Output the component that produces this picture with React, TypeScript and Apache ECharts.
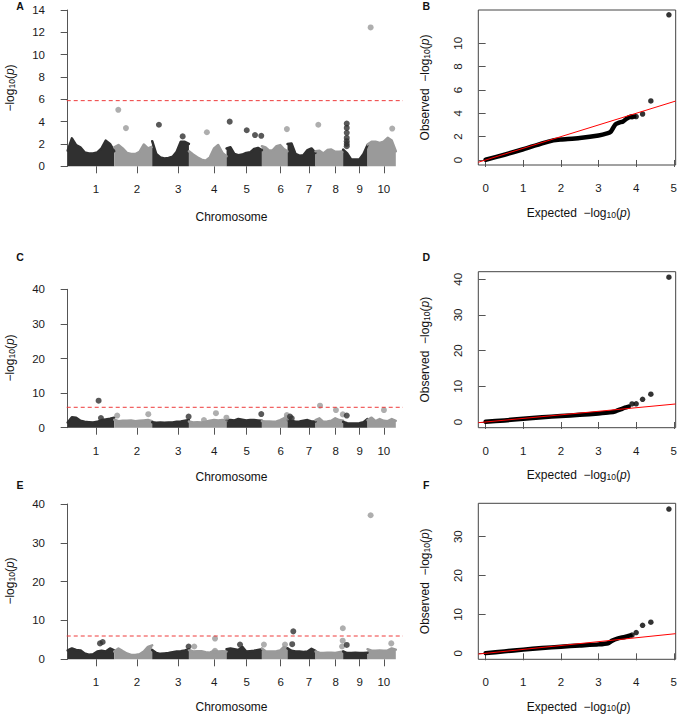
import React, { useEffect, useRef } from "react";
import * as echarts from "echarts";

// ---------- data ----------
const CHROMOSOMES = ["1", "2", "3", "4", "5", "6", "7", "8", "9", "10"];
const CHROM_LENGTH_MB = [298, 243, 235, 241, 226, 164, 179, 177, 156, 181];
const CHROM_TICK_MB = [181, 443, 708, 938, 1145, 1363, 1544, 1715, 1869, 2023];

// upper envelope of the dense SNP cloud per chromosome (evenly spaced along the chromosome)
const ENVELOPE_A = [
  [1.4, 2.5, 1.9, 1.7, 1.25, 1.15, 1.15, 1.25, 1.6, 2.3, 2.0, 1.35],
  [1.7, 1.9, 1.6, 1.2, 1.1, 1.1, 1.3, 1.95, 1.6, 1.75],
  [2.25, 1.1, 0.8, 0.7, 0.75, 0.85, 1.3, 2.2, 2.2, 2.0],
  [1.35, 1.05, 0.8, 0.6, 0.5, 0.8, 1.6, 1.9, 1.2, 0.9],
  [1.6, 1.7, 1.1, 1.0, 1.05, 1.2, 1.25, 1.55, 1.65, 1.45],
  [1.8, 1.7, 1.4, 1.45, 1.8, 1.9, 1.55, 1.35],
  [2.0, 2.05, 1.1, 0.95, 1.0, 1.45, 1.6, 1.2],
  [1.35, 1.4, 1.15, 1.45, 1.5, 1.3, 1.3, 1.35],
  [1.5, 1.15, 0.6, 0.6, 0.6, 1.1, 1.9],
  [1.95, 2.2, 2.2, 2.1, 2.2, 2.55, 2.3, 1.35],
];
// [chromosome, position within chromosome (Mb), -log10 p]
const OUTLIERS_A = [
  [2, 26, 5.06], [2, 75, 3.42], [3, 43, 3.72], [3, 195, 2.68], [4, 115, 3.05],
  [5, 20, 4.0], [5, 129, 3.23], [5, 182, 2.8], [5, 222, 2.73], [6, 160, 3.33],
  [8, 18, 3.72], [9, 23, 3.83], [9, 23, 3.44], [9, 23, 3.0], [9, 23, 2.54],
  [9, 23, 2.25], [9, 23, 2.0], [9, 23, 1.8], [10, 20, 12.44], [10, 158, 3.38],
];
const THRESHOLD_A = 5.88;

const ENVELOPE_C = [
  [1.5, 3.0, 2.9, 2.0, 1.7, 1.6, 1.5, 1.7, 2.2, 2.4, 2.6, 2.9],
  [2.3, 1.9, 2.0, 2.0, 2.1, 1.9, 2.0, 2.1, 2.2, 1.9],
  [1.6, 1.4, 1.5, 1.4, 1.5, 1.5, 1.7, 1.8, 2.0, 2.2],
  [1.8, 1.5, 1.6, 1.5, 1.7, 2.0, 2.2, 2.1, 2.2, 2.0],
  [2.2, 2.2, 2.1, 2.5, 2.3, 2.1, 2.2, 2.2, 2.1, 2.0],
  [1.9, 1.8, 1.8, 1.7, 1.8, 2.2, 2.7, 2.3],
  [2.2, 2.0, 1.7, 1.8, 2.0, 2.2, 1.8, 1.8],
  [2.2, 2.7, 1.7, 1.8, 2.0, 2.7, 2.2, 2.0],
  [1.7, 1.3, 1.2, 1.2, 1.3, 1.6, 2.5],
  [2.2, 2.9, 1.9, 2.5, 2.0, 1.9, 2.5, 2.0],
];
const OUTLIERS_C = [
  [1, 198, 7.8], [1, 213, 2.8], [2, 19, 3.5], [2, 218, 3.9], [3, 233, 3.2],
  [4, 96, 2.2], [4, 173, 4.2], [4, 240, 2.9], [5, 222, 3.95], [6, 160, 3.66],
  [6, 158, 2.8], [7, 16, 3.2], [7, 27, 2.7], [8, 29, 6.36], [8, 131, 5.1],
  [8, 175, 3.85], [9, 23, 3.5], [10, 20, 40.6], [10, 105, 5.1],
];
const THRESHOLD_C = 5.9;

const ENVELOPE_E = [
  [2.3, 2.8, 2.4, 2.3, 1.5, 1.2, 1.3, 2.0, 2.2, 2.0, 2.8, 2.3],
  [2.0, 2.8, 2.1, 1.5, 1.1, 1.1, 1.3, 2.0, 3.2, 3.6],
  [2.4, 1.6, 1.4, 1.5, 1.6, 1.8, 2.0, 2.1, 2.3, 2.6],
  [2.4, 2.0, 2.1, 2.1, 1.8, 1.7, 2.2, 2.0, 2.1, 2.0],
  [2.6, 2.8, 2.6, 2.4, 3.2, 2.0, 2.1, 2.2, 2.4, 2.6],
  [2.8, 2.1, 2.0, 2.0, 2.1, 2.3, 3.2, 2.8],
  [2.8, 2.2, 2.0, 2.0, 1.9, 2.0, 2.7, 2.2],
  [2.0, 1.7, 1.6, 1.7, 1.7, 1.6, 1.8, 2.0],
  [2.0, 1.6, 1.6, 1.7, 1.6, 1.6, 1.7],
  [2.6, 2.2, 2.2, 2.3, 2.2, 2.3, 2.8, 2.5],
];
const OUTLIERS_E = [
  [1, 207, 4.1], [1, 224, 4.45], [3, 233, 3.3], [4, 34, 3.3], [4, 167, 5.35],
  [4, 167, 2.2], [5, 86, 3.8], [6, 13, 3.8], [6, 148, 3.8], [7, 30, 3.9],
  [7, 37, 7.2], [8, 170, 3.3], [8, 174, 4.8], [8, 175, 8.0], [9, 23, 3.7],
  [10, 152, 4.1], [10, 20, 37.1],
];
const THRESHOLD_E = 6.0;

// QQ plots: [expected, observed]
const QQ_BAND_B = [
  [0, 0.02], [0.5, 0.45], [1, 0.92], [1.5, 1.43], [1.8, 1.68], [2, 1.75], [2.5, 1.88],
  [3, 2.1], [3.25, 2.3], [3.32, 2.4], [3.38, 2.7], [3.45, 3.05], [3.55, 3.2],
  [3.65, 3.3], [3.75, 3.55], [3.85, 3.7], [3.95, 3.72],
];
const QQ_POINTS_B = [[3.89, 3.7], [4.0, 3.72], [4.17, 3.94], [4.39, 5.06], [4.87, 12.44]];
const QQ_BAND_D = [
  [0, 0.05], [0.5, 0.45], [1, 0.9], [1.5, 1.3], [2, 1.7], [2.5, 2.0], [3, 2.4],
  [3.3, 2.7], [3.45, 3.0], [3.6, 3.6], [3.7, 4.0], [3.8, 4.3],
];
const QQ_POINTS_D = [[3.89, 5.05], [4.0, 5.1], [4.17, 6.36], [4.39, 7.8], [4.87, 40.6]];
const QQ_BAND_F = [
  [0, 0.05], [0.5, 0.5], [1, 0.95], [1.5, 1.35], [2, 1.7], [2.5, 2.0], [3, 2.3],
  [3.25, 2.6], [3.35, 3.2], [3.5, 3.8], [3.7, 4.2], [3.85, 4.6],
];
const QQ_POINTS_F = [[3.89, 4.7], [4.0, 5.35], [4.17, 7.2], [4.39, 8.0], [4.87, 37.1]];

const QQ_X_TICKS = [0, 1, 2, 3, 4, 5];
const QQ_Y_TICKS_B = [0, 2, 4, 6, 8, 10];
const QQ_Y_TICKS_D = [0, 10, 20, 30, 40];
const QQ_Y_TICKS_F = [0, 10, 20, 30];

// ---------- styling / layout ----------
const DARK = "#303030";
const GRAY = "#9a9a9a";
const FONT = '"Liberation Sans", Arial, Helvetica, sans-serif';
const AXIS_COLOR = "#555";
const LABEL_COLOR = "#1a1a1a";

const M_X_MIN = -49;
const M_X_MAX = 2146;
const THRESH_X_START = -6;
const QQ_X_MIN = -0.195;
const QQ_X_MAX = 5.05;

const CHROM_START: number[] = [];
{
  let acc = 0;
  for (const l of CHROM_LENGTH_MB) {
    CHROM_START.push(acc);
    acc += l;
  }
}

const manhattanGrids = [
  { top: 10, height: 156.3, yMax: 14, step: 2, env: ENVELOPE_A, out: OUTLIERS_A, thr: THRESHOLD_A },
  { top: 289.3, height: 138.4, yMax: 40, step: 10, env: ENVELOPE_C, out: OUTLIERS_C, thr: THRESHOLD_C },
  { top: 504, height: 155.3, yMax: 40, step: 10, env: ENVELOPE_E, out: OUTLIERS_E, thr: THRESHOLD_E },
];
const qqGrids = [
  { top: 10, height: 155, yMin: -0.43, yMax: 12.85, ticks: QQ_Y_TICKS_B, band: QQ_BAND_B, pts: QQ_POINTS_B },
  { top: 271.7, height: 156, yMin: -1.6, yMax: 42.13, ticks: QQ_Y_TICKS_D, band: QQ_BAND_D, pts: QQ_POINTS_D },
  { top: 503.3, height: 156, yMin: -1.54, yMax: 38.59, ticks: QQ_Y_TICKS_F, band: QQ_BAND_F, pts: QQ_POINTS_F },
];

function buildOption() {
  const grid: any[] = [];
  const xAxis: any[] = [];
  const yAxis: any[] = [];
  const series: any[] = [];

  manhattanGrids.forEach((g) => {
    const gi = grid.length;
    grid.push({ left: 60, top: g.top, width: 343, height: g.height });
    xAxis.push({
      gridIndex: gi,
      type: "value",
      min: M_X_MIN,
      max: M_X_MAX,
      axisLine: { show: false },
      splitLine: { show: false },
      axisTick: { show: true, customValues: CHROM_TICK_MB, length: 7, lineStyle: { color: AXIS_COLOR } },
      axisLabel: {
        customValues: CHROM_TICK_MB,
        margin: 17,
        fontSize: 11.5,
        color: LABEL_COLOR,
        fontFamily: FONT,
        formatter: (v: number) => {
          const i = CHROM_TICK_MB.indexOf(v);
          return i >= 0 ? CHROMOSOMES[i] : "";
        },
      },
    });
    yAxis.push({
      gridIndex: gi,
      type: "value",
      min: 0,
      max: g.yMax,
      interval: g.step,
      axisLine: { show: true, lineStyle: { color: AXIS_COLOR } },
      axisTick: { show: true, length: 7, lineStyle: { color: AXIS_COLOR } },
      splitLine: { show: false },
      axisLabel: { margin: 15, fontSize: 11.5, color: LABEL_COLOR, fontFamily: FONT },
    });
    g.env.forEach((vals, c) => {
      const n = vals.length;
      const color = c % 2 === 0 ? DARK : GRAY;
      series.push({
        type: "line",
        xAxisIndex: gi,
        yAxisIndex: gi,
        data: vals.map((v, i) => [CHROM_START[c] + (CHROM_LENGTH_MB[c] * i) / (n - 1), v]),
        symbol: "none",
        smooth: false,
        lineStyle: { color, width: 2.5, join: "round", cap: "round" },
        areaStyle: { color, opacity: 1 },
        silent: true,
        z: 2,
      });
    });
    series.push({
      type: "scatter",
      xAxisIndex: gi,
      yAxisIndex: gi,
      symbolSize: 6,
      silent: true,
      z: 3,
      data: g.out.map(([c, p, v]) => ({
        value: [CHROM_START[c - 1] + p, v],
        itemStyle: { color: (c - 1) % 2 === 0 ? DARK : GRAY },
      })),
    });
    series.push({
      type: "line",
      xAxisIndex: gi,
      yAxisIndex: gi,
      data: [[THRESH_X_START, g.thr], [M_X_MAX, g.thr]],
      symbol: "none",
      silent: true,
      lineStyle: { color: "#ee3a3a", width: 1, type: [4, 3] },
      z: 4,
    });
  });

  qqGrids.forEach((g) => {
    const gi = grid.length;
    grid.push({
      left: 478.3,
      top: g.top,
      width: 199.4,
      height: g.height,
      show: true,
      borderColor: "#444",
      borderWidth: 1,
      backgroundColor: "transparent",
    });
    xAxis.push({
      gridIndex: gi,
      type: "value",
      min: QQ_X_MIN,
      max: QQ_X_MAX,
      axisLine: { show: false },
      splitLine: { show: false },
      axisTick: { show: true, customValues: QQ_X_TICKS, length: 7, lineStyle: { color: AXIS_COLOR } },
      axisLabel: { customValues: QQ_X_TICKS, margin: 17, fontSize: 11.5, color: LABEL_COLOR, fontFamily: FONT },
    });
    yAxis.push({
      gridIndex: gi,
      type: "value",
      min: g.yMin,
      max: g.yMax,
      axisLine: { show: false },
      splitLine: { show: false },
      axisTick: { show: true, customValues: g.ticks, length: 7, lineStyle: { color: AXIS_COLOR } },
      axisLabel: { customValues: g.ticks, rotate: 90, margin: 14, fontSize: 11.5, color: LABEL_COLOR, fontFamily: FONT },
    });
    series.push({
      type: "line",
      xAxisIndex: gi,
      yAxisIndex: gi,
      data: g.band,
      symbol: "none",
      smooth: 0.2,
      silent: true,
      lineStyle: { color: "#000", width: 4.5, cap: "round", join: "round" },
      z: 2,
    });
    series.push({
      type: "scatter",
      xAxisIndex: gi,
      yAxisIndex: gi,
      data: g.pts,
      symbolSize: 5.5,
      silent: true,
      itemStyle: { color: "#000" },
      z: 3,
    });
    series.push({
      type: "line",
      xAxisIndex: gi,
      yAxisIndex: gi,
      data: [[QQ_X_MIN, QQ_X_MIN], [QQ_X_MAX, QQ_X_MAX]],
      symbol: "none",
      silent: true,
      lineStyle: { color: "#ff0000", width: 1 },
      z: 5,
    });
  });

  const rich = {
    s: { fontSize: 8.5, fontFamily: FONT, fill: "#111", verticalAlign: "bottom", padding: [3, 0, 0, 0] },
    i: { fontSize: 12, fontFamily: FONT, fontStyle: "italic", fill: "#111" },
  };
  const titleText = (x: number, y: number, text: string, rotated: boolean) => ({
    type: "text",
    x,
    y,
    rotation: rotated ? Math.PI / 2 : 0,
    style: {
      text,
      rich,
      fontSize: 12,
      fontFamily: FONT,
      fill: "#111",
      align: "center",
      verticalAlign: "middle",
    },
    silent: true,
  });
  const letter = (x: number, y: number, t: string) => ({
    type: "text",
    x,
    y,
    style: { text: t, fontSize: 10.5, fontWeight: "bold", fontFamily: FONT, fill: "#111", align: "center", verticalAlign: "middle" },
    silent: true,
  });
  const logp = "−log{s|10}({i|p})";
  const graphic = [
    letter(20, 6, "A"), letter(426.3, 6, "B"),
    letter(20, 256.7, "C"), letter(426.3, 256.7, "D"),
    letter(20, 485, "E"), letter(426.3, 485, "F"),
    titleText(10, 88, logp, true),
    titleText(10, 358, logp, true),
    titleText(10, 581, logp, true),
    titleText(231.5, 217, "Chromosome", false),
    titleText(231.5, 477, "Chromosome", false),
    titleText(231.5, 706.5, "Chromosome", false),
    titleText(425, 87.5, "Observed  " + logp, true),
    titleText(425, 349.7, "Observed  " + logp, true),
    titleText(425, 581.3, "Observed  " + logp, true),
    titleText(578.7, 213, "Expected  " + logp, false),
    titleText(578.7, 475, "Expected  " + logp, false),
    titleText(578.7, 706.5, "Expected  " + logp, false),
  ];

  return {
    animation: false,
    backgroundColor: "#ffffff",
    textStyle: { fontFamily: FONT },
    grid,
    xAxis,
    yAxis,
    series,
    graphic,
  };
}

export default function App() {
  const ref = useRef<HTMLDivElement>(null);
  useEffect(() => {
    if (!ref.current) return;
    const chart = echarts.init(ref.current, null, { renderer: "svg" });
    chart.setOption(buildOption() as any);
    return () => chart.dispose();
  }, []);
  return (
    <div
      ref={ref}
      style={{ position: "absolute", left: 0, top: 0, width: 680, height: 715, background: "#fff" }}
    />
  );
}
